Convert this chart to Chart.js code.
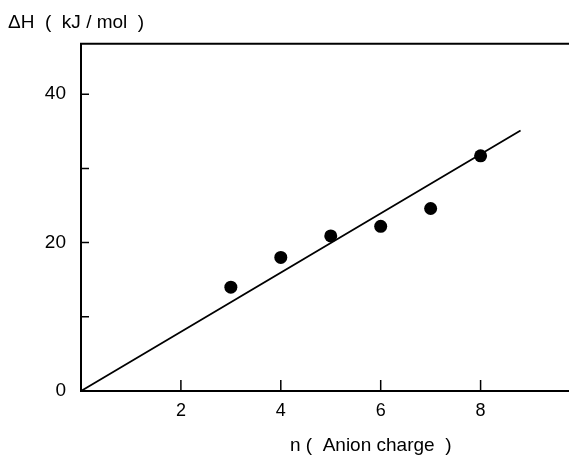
<!DOCTYPE html>
<html lang="en">
<head>
<meta charset="UTF-8">
<title>ΔH vs anion charge</title>
<style>
  body { margin: 0; background: #fff; }
  #wrap { width: 569px; height: 455px; }
</style>
<script src="https://cdn.jsdelivr.net/npm/chart.js"></script>
</head>
<body>
<div id="wrap"><canvas id="chart" width="569" height="455"></canvas></div>
<script>
// measured points: anion charge n vs ΔH (kJ/mol)
const charges = [3, 4, 5, 6, 7, 8];
const enthalpies = [14.0, 18.0, 20.9, 22.2, 24.6, 31.7];
// straight line through the origin
const fitN = [0, 8.8];
const fitH = [0, 35.1];
// tick marks (drawn inside the frame) and labelled values
const xTickValues = [2, 4, 6, 8];
const yTickValues = [10, 20, 30, 40];
const yLabelValues = [0, 20, 40];

const font = 'Arial, "Liberation Sans", sans-serif';

// inward tick marks, top frame line and the x axis caption
const frame = {
  id: 'frame',
  afterDraw(chart) {
    const ctx = chart.ctx;
    const { left, right, top, bottom } = chart.chartArea;
    const xs = chart.scales.x, ys = chart.scales.y;
    ctx.save();
    ctx.strokeStyle = '#000';
    ctx.lineWidth = 2;
    ctx.beginPath();
    ctx.moveTo(left - 1, top);
    ctx.lineTo(right, top);
    ctx.stroke();

    ctx.lineWidth = 1.5;
    ctx.beginPath();
    xTickValues.forEach(v => {
      const px = xs.getPixelForValue(v);
      ctx.moveTo(px, bottom);
      ctx.lineTo(px, bottom - 11);
    });
    yTickValues.forEach(v => {
      const py = ys.getPixelForValue(v);
      ctx.moveTo(left, py);
      ctx.lineTo(left + 8, py);
    });
    ctx.stroke();

    ctx.fillStyle = '#000';
    ctx.font = '19px ' + font;
    ctx.textAlign = 'center';
    ctx.textBaseline = 'middle';
    ctx.fillText('n (  Anion charge  )', xs.getPixelForValue(5.8), chart.height - 9);
    ctx.restore();
  }
};

new Chart(document.getElementById('chart'), {
  type: 'scatter',
  data: {
    datasets: [
      {
        label: 'ΔH',
        data: charges.map((n, i) => ({ x: n, y: enthalpies[i] })),
        pointRadius: 6.5,
        pointBackgroundColor: '#000',
        pointBorderWidth: 0,
        showLine: false
      },
      {
        label: 'fit',
        data: fitN.map((n, i) => ({ x: n, y: fitH[i] })),
        showLine: true,
        borderColor: '#000',
        borderWidth: 1.8,
        pointRadius: 0
      }
    ]
  },
  options: {
    responsive: false,
    animation: false,
    layout: { autoPadding: false, padding: { left: 8, top: 0, right: 0, bottom: 0 } },
    plugins: {
      legend: { display: false },
      tooltip: { enabled: false },
      title: {
        display: true,
        text: 'ΔH  (  kJ / mol  )',
        align: 'start',
        color: '#000',
        font: { family: font, size: 19, weight: 'normal', lineHeight: 1.2 },
        padding: { top: 11, bottom: 10 }
      }
    },
    scales: {
      x: {
        type: 'linear',
        min: 0,
        max: 9.77,
        grid: { display: false },
        border: { display: true, color: '#000', width: 2 },
        ticks: {
          stepSize: 2,
          includeBounds: false,
          color: '#000',
          padding: 1,
          font: { family: font, size: 18 },
          callback: v => (v === 0 ? '' : v)
        },
        afterFit: s => { s.height = 64; }
      },
      y: {
        min: 0,
        max: 46.8,
        grid: { display: false },
        border: { display: true, color: '#000', width: 2 },
        ticks: {
          stepSize: 10,
          includeBounds: false,
          color: '#000',
          padding: 7,
          font: { family: font, size: 19 },
          callback: v => (yLabelValues.includes(v) ? v : '')
        },
        afterFit: s => { s.width = 73; }
      }
    }
  },
  plugins: [frame]
});
</script>
</body>
</html>
